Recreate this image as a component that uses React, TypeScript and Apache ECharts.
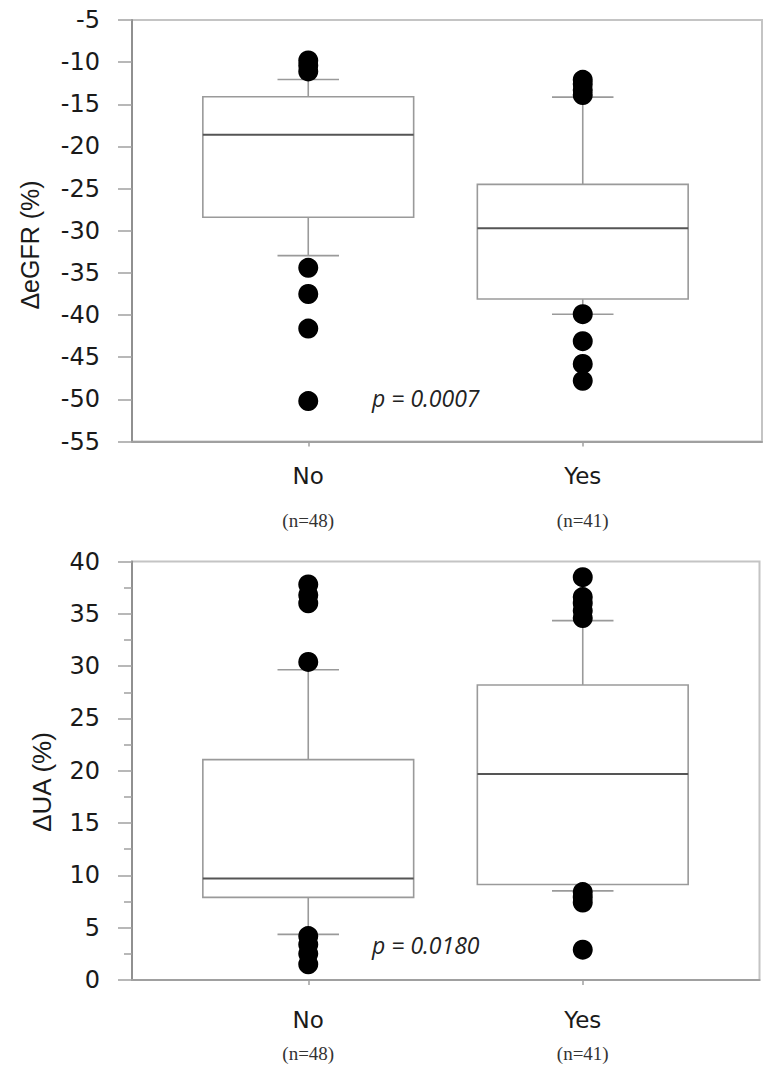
import React, { useEffect, useRef } from "react";
import * as echarts from "echarts";

// ---- data ----
const categories = ["No", "Yes"];
const groupSizes = ["(n=48)", "(n=41)"];

// [lowerWhisker, Q1, median, Q3, upperWhisker]
const egfrBoxNo = [-32.95, -28.4, -18.6, -14.1, -12.05];
const egfrBoxYes = [-39.9, -38.1, -29.7, -24.5, -14.15];
const egfrOutliersNo = [-9.8, -10.4, -11.1, -34.4, -37.5, -41.6, -50.2];
const egfrOutliersYes = [-12.1, -12.6, -13.3, -13.9, -39.9, -43.1, -45.8, -47.8];

const uaBoxNo = [4.36, 7.9, 9.7, 21.06, 29.65];
const uaBoxYes = [8.52, 9.13, 19.7, 28.2, 34.35];
const uaOutliersNo = [37.8, 36.8, 36.0, 30.4, 4.2, 3.4, 2.5, 1.5];
const uaOutliersYes = [38.5, 36.6, 36.0, 35.3, 34.6, 8.4, 7.9, 7.4, 2.9];

const egfrAxis = { min: -55, max: -5, step: 5 };
const uaAxis = { min: 0, max: 40, step: 5 };

const egfrP = "p = 0.0007";
const uaP = "p = 0.0180";

// ---- helpers ----
const boxData = (boxes: number[][]) => boxes.map((b, i) => [i, ...b]);
const outlierData = (lists: number[][]) =>
  lists.flatMap((vals, i) => vals.map((v) => [i, v]));

const renderBox = (params: any, api: any) => {
  const xi = api.value(0);
  const pts = [1, 2, 3, 4, 5].map((k) => api.coord([xi, api.value(k)]));
  const cx = pts[0][0];
  const band = api.size([1, 0])[0];
  const half = band * 0.384;
  const capHalf = band * 0.112;
  const yLow = pts[0][1];
  const yQ1 = pts[1][1];
  const yMed = pts[2][1];
  const yQ3 = pts[3][1];
  const yHigh = pts[4][1];
  const boxTop = Math.min(yQ1, yQ3);
  const boxBot = Math.max(yQ1, yQ3);
  const wStyle = { stroke: "#9a9a9a", lineWidth: 1.6 };
  return {
    type: "group",
    children: [
      { type: "line", shape: { x1: cx, y1: yQ3, x2: cx, y2: yHigh }, style: wStyle },
      { type: "line", shape: { x1: cx, y1: yQ1, x2: cx, y2: yLow }, style: wStyle },
      { type: "line", shape: { x1: cx - capHalf, y1: yHigh, x2: cx + capHalf, y2: yHigh }, style: wStyle },
      { type: "line", shape: { x1: cx - capHalf, y1: yLow, x2: cx + capHalf, y2: yLow }, style: wStyle },
      {
        type: "rect",
        shape: { x: cx - half, y: boxTop, width: half * 2, height: boxBot - boxTop },
        style: { fill: "#ffffff", stroke: "#9a9a9a", lineWidth: 1.6 },
      },
      { type: "line", shape: { x1: cx - half, y1: yMed, x2: cx + half, y2: yMed }, style: { stroke: "#555", lineWidth: 2 } },
    ],
  };
};

const tickFont = "'DejaVu Sans', sans-serif";

function panel(
  frameIdx: number,
  dataIdx: number,
  axis: { min: number; max: number; step: number },
  minor: boolean,
  lineH: number,
  labelMargin: number
) {
  const xAxes = [
    {
      type: "value",
      gridIndex: frameIdx,
      min: 0,
      max: 1,
      axisLine: { show: true, lineStyle: { color: "#a0a0a0", width: 2 } },
      axisTick: { show: false },
      axisLabel: { show: false },
      splitLine: { show: false },
    },
    {
      type: "category",
      gridIndex: dataIdx,
      data: categories,
      boundaryGap: true,
      axisLine: { show: false },
      axisTick: { show: true, alignWithLabel: true, length: 5, lineStyle: { color: "#a0a0a0", width: 1.5 } },
      axisLabel: {
        margin: labelMargin,
        formatter: (v: string, i: number) => `{a|${v}}\n{b|${groupSizes[i]}}`,
        rich: {
          a: { fontFamily: tickFont, fontSize: 23, color: "#1a1a1a", lineHeight: lineH },
          b: { fontFamily: "'Liberation Serif', serif", fontSize: 19, color: "#333", lineHeight: lineH },
        },
      },
      splitLine: { show: false },
    },
  ];
  const yAxes = [
    {
      type: "value",
      gridIndex: frameIdx,
      min: axis.min,
      max: axis.max,
      interval: axis.step,
      axisLine: { show: true, lineStyle: { color: "#909090", width: 2 } },
      axisTick: { show: true, length: 14, lineStyle: { color: "#a0a0a0", width: 1.5 } },
      minorTick: { show: minor, splitNumber: 2, length: 8, lineStyle: { color: "#a0a0a0", width: 1.5 } },
      axisLabel: { margin: 32, fontFamily: tickFont, fontSize: 24, color: "#1a1a1a" },
      splitLine: { show: false },
    },
    {
      type: "value",
      gridIndex: dataIdx,
      min: axis.min,
      max: axis.max,
      show: false,
      splitLine: { show: false },
    },
  ];
  return { xAxes, yAxes };
}

export default function App() {
  const ref = useRef<HTMLDivElement>(null);
  useEffect(() => {
    if (!ref.current) return;
    const chart = echarts.init(ref.current, undefined, { renderer: "svg" });
    const top = panel(0, 1, egfrAxis, false, 44, 12.5);
    const bot = panel(2, 3, uaAxis, true, 34, 22.5);
    const gridFrame = { show: true, borderColor: "#c4c4c4", borderWidth: 2, backgroundColor: "transparent" };
    const dotStyle = { color: "#000", opacity: 1 };
    const option: any = {
      animation: false,
      backgroundColor: "#ffffff",
      grid: [
        { left: 132, top: 20, width: 630, height: 421.5, ...gridFrame },
        { left: 171, top: 20, width: 549, height: 421.5 },
        { left: 132, top: 561.5, width: 627.5, height: 418.5, ...gridFrame },
        { left: 171, top: 561.5, width: 549, height: 418.5 },
      ],
      xAxis: [...top.xAxes, ...bot.xAxes],
      yAxis: [...top.yAxes, ...bot.yAxes],
      series: [
        {
          type: "custom",
          xAxisIndex: 1,
          yAxisIndex: 1,
          renderItem: renderBox,
          encode: { x: 0, y: [1, 2, 3, 4, 5] },
          data: boxData([egfrBoxNo, egfrBoxYes]),
          z: 2,
        },
        {
          type: "scatter",
          xAxisIndex: 1,
          yAxisIndex: 1,
          symbolSize: 20,
          itemStyle: dotStyle,
          data: outlierData([egfrOutliersNo, egfrOutliersYes]),
          z: 3,
        },
        {
          type: "custom",
          xAxisIndex: 3,
          yAxisIndex: 3,
          renderItem: renderBox,
          encode: { x: 0, y: [1, 2, 3, 4, 5] },
          data: boxData([uaBoxNo, uaBoxYes]),
          z: 2,
        },
        {
          type: "scatter",
          xAxisIndex: 3,
          yAxisIndex: 3,
          symbolSize: 20,
          itemStyle: dotStyle,
          data: outlierData([uaOutliersNo, uaOutliersYes]),
          z: 3,
        },
      ],
      graphic: [
        {
          type: "text",
          x: 30,
          y: 245,
          rotation: Math.PI / 2,
          style: {
            text: "ΔeGFR (%)",
            fontFamily: "'Liberation Sans', Arial, sans-serif",
            fontSize: 25,
            fill: "#1a1a1a",
            align: "center",
            verticalAlign: "middle",
          },
        },
        {
          type: "text",
          x: 42,
          y: 782,
          rotation: Math.PI / 2,
          style: {
            text: "ΔUA (%)",
            fontFamily: "'Liberation Sans', Arial, sans-serif",
            fontSize: 26,
            fill: "#1a1a1a",
            align: "center",
            verticalAlign: "middle",
          },
        },
        {
          type: "text",
          x: 372,
          y: 398,
          style: {
            text: egfrP,
            fontFamily: "'Open Sans', sans-serif",
            fontStyle: "italic",
            fontSize: 23,
            fill: "#222",
            align: "left",
            verticalAlign: "middle",
          },
        },
        {
          type: "text",
          x: 372,
          y: 945,
          style: {
            text: uaP,
            fontFamily: "'Open Sans', sans-serif",
            fontStyle: "italic",
            fontSize: 23,
            fill: "#222",
            align: "left",
            verticalAlign: "middle",
          },
        },
      ],
    };
    chart.setOption(option);
    return () => chart.dispose();
  }, []);
  return (
    <div
      ref={ref}
      style={{ position: "absolute", left: 0, top: 0, width: 773, height: 1070, background: "#fff" }}
    />
  );
}
